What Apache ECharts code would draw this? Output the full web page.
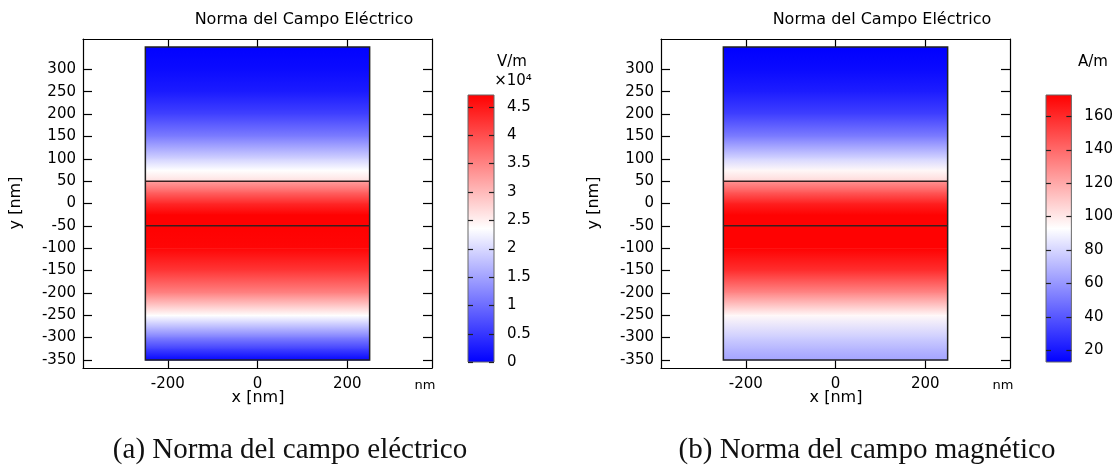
<!DOCTYPE html>
<html>
<head>
<meta charset="utf-8">
<script src="https://cdn.jsdelivr.net/npm/echarts@6/dist/echarts.min.js"></script>
<style>
  html, body { margin: 0; padding: 0; background: #fff; }
  #chart { width: 1116px; height: 467px; }
</style>
</head>
<body>
<div id="chart"></div>
<script>
// profile along y (nm), top to bottom; 50 / -50 twice for the jump at the interfaces
const yPos = [350, 300, 250, 200, 150, 100, 75, 50, 50, 25, 0, -25, -50, -50, -100, -150, -200, -250, -300, -325, -350]
const eNorm = [0.02, 0.1, 0.25, 0.6, 1.15, 1.95, 2.35, 2.65, 3.25, 3.8, 4.35, 4.7, 4.7, 4.7, 4.65, 4.2, 3.5, 2.35, 1.15, 0.6, 0.05] // x10^4 V/m
const hNorm = [13, 16, 22, 33, 52, 80, 95, 105, 127, 145, 163, 172, 172, 172, 172, 158, 130, 95, 77, 70, 64] // A/m

const domainX = [-250, 250]
const domainY = [-350, 350]
const interfaces = [50, -50]

const xTicks = [-200, 0, 200]
const yTicks = [-350, -300, -250, -200, -150, -100, -50, 0, 50, 100, 150, 200, 250, 300]

const eRange = [0, 4.706]
const eTicks = [0, 0.5, 1, 1.5, 2, 2.5, 3, 3.5, 4, 4.5]
const hRange = [13, 172.6]
const hTicks = [20, 40, 60, 80, 100, 120, 140, 160]

const FONT = 'DejaVu Sans'

// blue -> white -> red, linear in rgb
const colormap = (v, [lo, hi]) => {
  const t = Math.max(0, Math.min(1, (v - lo) / (hi - lo)))
  if (t < 0.5) {
    const c = Math.round(255 * t * 2)
    return `rgb(${c},${c},255)`
  }
  const c = Math.round(255 * (1 - t) * 2)
  return `rgb(255,${c},${c})`
}

const fieldSeries = (axisIdx, values, range) => ({
  type: 'custom',
  xAxisIndex: axisIdx,
  yAxisIndex: axisIdx,
  data: yPos.map((y, i) => [y, values[i]]),
  renderItem: (params, api) => {
    const i = params.dataIndex
    if (i >= yPos.length - 1 || yPos[i] === yPos[i + 1]) return null
    const p0 = api.coord([domainX[0], yPos[i]])
    const p1 = api.coord([domainX[1], yPos[i + 1]])
    return {
      type: 'rect',
      shape: { x: p0[0], y: p0[1], width: p1[0] - p0[0], height: p1[1] - p0[1] + 0.6 },
      style: {
        fill: new echarts.graphic.LinearGradient(0, 0, 0, 1, [
          { offset: 0, color: colormap(values[i], range) },
          { offset: 1, color: colormap(values[i + 1], range) }
        ])
      }
    }
  }
})

const outlineSeries = (axisIdx) => ({
  type: 'custom',
  xAxisIndex: axisIdx,
  yAxisIndex: axisIdx,
  data: [[0, 0]],
  z: 5,
  renderItem: (params, api) => {
    const tl = api.coord([domainX[0], domainY[1]])
    const br = api.coord([domainX[1], domainY[0]])
    const lines = interfaces.map(y => {
      const a = api.coord([domainX[0], y])
      const b = api.coord([domainX[1], y])
      return { type: 'line', shape: { x1: a[0], y1: a[1], x2: b[0], y2: b[1] }, style: { stroke: '#3a2020', lineWidth: 1.5 } }
    })
    return {
      type: 'group',
      children: [
        { type: 'rect', shape: { x: tl[0], y: tl[1], width: br[0] - tl[0], height: br[1] - tl[1] },
          style: { fill: 'none', stroke: '#222', lineWidth: 1.5 } },
        ...lines
      ]
    }
  }
})

// colour bar with its small ticks on both inner edges
const colorbarSeries = (axisIdx, range, ticks) => ({
  type: 'custom',
  xAxisIndex: axisIdx,
  yAxisIndex: axisIdx,
  data: [range],
  renderItem: (params, api) => {
    const tl = api.coord([0, range[1]])
    const br = api.coord([1, range[0]])
    const marks = []
    ticks.forEach(v => {
      const y = Math.round(api.coord([0, v])[1]) + 0.5
      marks.push({ type: 'line', shape: { x1: tl[0], y1: y, x2: tl[0] + 5, y2: y }, style: { stroke: '#222', lineWidth: 1.2 } })
      marks.push({ type: 'line', shape: { x1: br[0] - 5, y1: y, x2: br[0], y2: y }, style: { stroke: '#222', lineWidth: 1.2 } })
    })
    return {
      type: 'group',
      children: [
        {
          type: 'rect',
          shape: { x: tl[0], y: tl[1], width: br[0] - tl[0], height: br[1] - tl[1] },
          style: {
            fill: new echarts.graphic.LinearGradient(0, 0, 0, 1, [
              { offset: 0, color: '#ff0000' },
              { offset: 0.5, color: '#ffffff' },
              { offset: 1, color: '#0000ff' }
            ]),
            stroke: '#666', lineWidth: 1
          }
        },
        ...marks
      ]
    }
  }
})

const tickStyle = { color: '#000', width: 1.2 }
const labelStyle = { fontFamily: FONT, fontSize: 15, color: '#000' }

const plotX = (grid, pos) => ({
  gridIndex: grid, type: 'value', min: -389, max: 389, position: pos,
  axisLine: { show: true, onZero: false, lineStyle: tickStyle },
  axisTick: { inside: true, length: 9, customValues: xTicks, lineStyle: tickStyle },
  axisLabel: { show: pos === 'bottom', customValues: xTicks, margin: 9, ...labelStyle },
  splitLine: { show: false }
})
const plotY = (grid, pos) => ({
  gridIndex: grid, type: 'value', min: -368, max: 368, position: pos,
  axisLine: { show: true, onZero: false, lineStyle: tickStyle },
  axisTick: { inside: true, length: 9, customValues: yTicks, lineStyle: tickStyle },
  axisLabel: { show: pos === 'left', customValues: yTicks, margin: 7, ...labelStyle },
  splitLine: { show: false }
})
const barX = (grid) => ({ gridIndex: grid, type: 'value', min: 0, max: 1, show: false })
const barY = (grid, range, ticks) => ({
  gridIndex: grid, type: 'value', min: range[0], max: range[1], position: 'right',
  axisLine: { show: false },
  axisTick: { show: false },
  axisLabel: { customValues: ticks, margin: 13, ...labelStyle },
  splitLine: { show: false }
})

const txt = (text, x, y, size, extra = {}) => ({
  type: 'text', x, y, ...extra,
  style: { text, font: `${size}px "${FONT}"`, fill: '#000', textAlign: 'center', textVerticalAlign: 'middle' }
})
const caption = (text, x, y) => ({
  type: 'text', x, y,
  style: { text, font: '29px "Liberation Serif"', fill: '#111', textAlign: 'center', textVerticalAlign: 'middle' }
})

const option = {
  animation: false,
  backgroundColor: '#fff',
  grid: [
    { left: 83, top: 39, width: 349, height: 329 },
    { left: 661, top: 39, width: 349, height: 329 },
    { left: 468, top: 95, width: 26, height: 267 },
    { left: 1046, top: 95, width: 26, height: 267 }
  ],
  xAxis: [
    plotX(0, 'bottom'), plotX(1, 'bottom'), barX(2), barX(3),
    plotX(0, 'top'), plotX(1, 'top')
  ],
  yAxis: [
    plotY(0, 'left'), plotY(1, 'left'), barY(2, eRange, eTicks), barY(3, hRange, hTicks),
    plotY(0, 'right'), plotY(1, 'right')
  ],
  series: [
    fieldSeries(0, eNorm, eRange),
    fieldSeries(1, hNorm, hRange),
    outlineSeries(0),
    outlineSeries(1),
    colorbarSeries(2, eRange, eTicks),
    colorbarSeries(3, hRange, hTicks)
  ],
  graphic: [
    txt('Norma del Campo Eléctrico', 304, 20, 16),
    txt('Norma del Campo Eléctrico', 882, 20, 16),
    txt('y [nm]', 16, 203, 16, { rotation: Math.PI / 2 }),
    txt('y [nm]', 594, 203, 16, { rotation: Math.PI / 2 }),
    txt('x [nm]', 258, 398, 16),
    txt('x [nm]', 836, 398, 16),
    txt('nm', 425, 386, 13),
    txt('nm', 1003, 386, 13),
    txt('V/m', 512, 62, 15),
    txt('×10⁴', 513, 81, 15),
    txt('A/m', 1093, 62, 15),
    caption('(a) Norma del campo eléctrico', 290, 450),
    caption('(b) Norma del campo magnético', 867, 450)
  ]
}

echarts.init(document.getElementById('chart')).setOption(option)
</script>
</body>
</html>
